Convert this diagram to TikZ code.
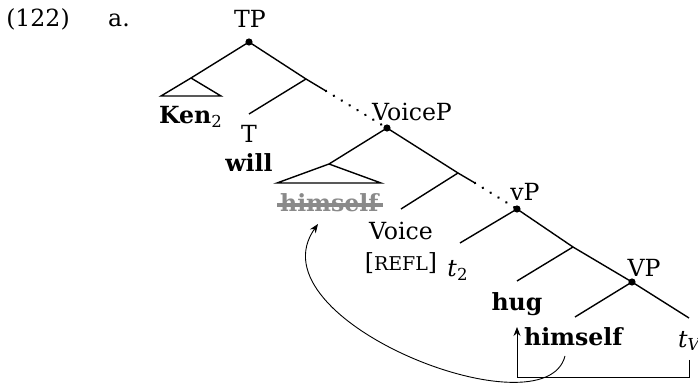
\documentclass[tikz,border=0pt]{standalone}
\usepackage{fontspec}
\setmainfont{DejaVu Serif}
\usetikzlibrary{arrows.meta}
\definecolor{strk}{HTML}{8A8A8A}
\begin{document}
\begin{tikzpicture}[x=0.5pt,y=-0.5pt,
  lbl/.style={inner sep=0pt, font=\fontsize{11.8}{13}\selectfont},
  br/.style={line width=0.7pt},
  dotbr/.style={line width=1.4pt, line cap=round, dash pattern=on 0.01pt off 4.6pt},
  nd/.style={circle, fill=black, inner sep=0pt, minimum size=3.6pt},
  mv/.style={line width=0.45pt, -{Stealth[length=4.5pt,width=3.5pt]}}]
\useasboundingbox (0,0) rectangle (698,390);
% labels
\node[lbl] (ex) at (38,19) {(122)};
\node[lbl] (a) at (119,20) {a.};
\node[lbl] (tpl) at (250,19) {TP};
\node[lbl] (ken) at (191,117) {\textbf{Ken}\textsubscript{2}};
\node[lbl] (tl) at (249,134) {T};
\node[lbl] (will) at (249,163) {\textbf{will}};
\node[lbl] (voicepl) at (412,112) {VoiceP};
\node[lbl, text=strk] (him1) at (330,203) {\textbf{himself}};
\node[lbl] (voice) at (401,231) {Voice};
\node[lbl] (refl) at (401,263) {[{\fontsize{9.5}{11}\selectfont REFL}]};
\node[lbl] (t2) at (458,270) {\textit{t}\textsubscript{2}};
\node[lbl] (vpl) at (525,192) {vP};
\node[lbl] (VPl) at (644,268) {VP};
\node[lbl] (hug) at (517,304) {\textbf{hug}};
\node[lbl] (him2) at (574,337) {\textbf{himself}};
\node[lbl] (tv) at (690,341) {\textit{t}\textsubscript{\textit{V}}};
% strike
\draw[strk, line width=1.8pt] (277,205) -- (383,205);
% tree points
\node[nd] (tp) at (249,42) {};
\coordinate (a1) at (191,78);
\coordinate (b1l) at (161,96);
\coordinate (b1r) at (221,96);
\coordinate (n1) at (306,79);
\coordinate (tt) at (249,114);
\coordinate (s1) at (326,91);
\node[nd] (voicep) at (387,128) {};
\coordinate (a2) at (329,164);
\coordinate (b2l) at (277,183);
\coordinate (b2r) at (381,183);
\coordinate (n2) at (458,173);
\coordinate (vo) at (401,209);
\coordinate (s2) at (475,183);
\node[nd] (vp) at (517,209) {};
\coordinate (t2e) at (460,243);
\coordinate (n3) at (573,247);
\coordinate (huge) at (517,281);
\node[nd] (VP) at (632,282) {};
\coordinate (hime) at (575,317);
\coordinate (tve) at (689,318);
% branches
\draw[br] (tp.center) -- (a1) (b1l) -- (a1) -- (b1r) -- cycle;
\draw[br] (tp.center) -- (n1) -- (s1);
\draw[br] (n1) -- (tt);
\draw[dotbr] (s1) -- (voicep.center);
\draw[br] (voicep.center) -- (a2) (b2l) -- (a2) -- (b2r) -- cycle;
\draw[br] (voicep.center) -- (n2) -- (s2);
\draw[br] (n2) -- (vo);
\draw[dotbr] (s2) -- (vp.center);
\draw[br] (vp.center) -- (t2e);
\draw[br] (vp.center) -- (n3) -- (VP.center) -- (tve);
\draw[br] (n3) -- (huge);
\draw[br] (VP.center) -- (hime);
% movement arrows
\coordinate (tvb) at (689,360);
\coordinate (hugb) at (517,327);
\draw[mv] (tvb) -- (689,377) -- (517,377) -- (hugb);
\coordinate (hs) at (565,356);
\coordinate (h1) at (318,224);
\draw[mv] (hs) .. controls (545,435) and (250,320) .. (h1);
\end{tikzpicture}
\end{document}
